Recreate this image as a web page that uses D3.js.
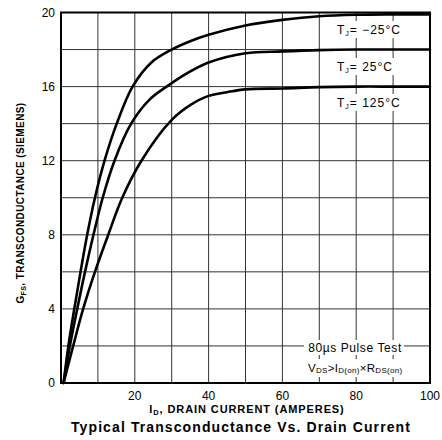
<!DOCTYPE html>
<html><head><meta charset="utf-8">
<script src="https://cdn.jsdelivr.net/npm/d3@7"></script>
<style>body{margin:0;background:#fff}svg{display:block}text{font-family:"Liberation Sans",Arial,Helvetica,sans-serif}</style>
</head><body>
<svg id="c" width="442" height="440"></svg>
<script>
// Data
const xTicks = [20, 40, 60, 80, 100];
const yTicks = [0, 4, 8, 12, 16, 20];
const tempLabels = ["−25°C", "25°C", "125°C"];

const idM25 = [0.7, 2.0, 3.6, 5.3, 7.1, 9.2, 11.8, 15.1, 19.4, 24.5, 30, 35, 40, 50, 60, 70, 80, 90, 100];
const gfsM25 = [0, 2, 4, 6, 8, 10, 12, 14, 16, 17.3, 18, 18.45, 18.8, 19.3, 19.6, 19.8, 19.88, 19.9, 19.9];

const id25 = [0.7, 2.4, 4.4, 6.5, 8.8, 11.3, 14.5, 19.0, 24, 29, 34, 40, 50, 60, 70, 80, 90, 100];
const gfs25 = [0, 2, 4, 6, 8, 10, 12, 14, 15.3, 16.05, 16.7, 17.3, 17.8, 17.9, 17.97, 18, 18, 18];

const id125 = [0.7, 3.3, 6.0, 9.2, 12.8, 16.6, 21.8, 30, 35, 40, 45, 50, 60, 70, 80, 90, 100];
const gfs125 = [0, 2, 4, 6, 8, 10, 12, 14.2, 15.0, 15.5, 15.7, 15.85, 15.9, 15.97, 16, 16, 16];

const svg = d3.select("#c");
const x = d3.scaleLinear().domain([0, 100]).range([61, 430]);
const y = d3.scaleLinear().domain([0, 20]).range([383, 12.5]);

// grid
const g = svg.append("g");
g.selectAll("line.v").data(d3.range(10, 100, 10)).join("line")
  .attr("x1", d => x(d)).attr("x2", d => x(d)).attr("y1", y(0)).attr("y2", y(20))
  .attr("stroke", "#333").attr("stroke-width", 1);
g.selectAll("line.h").data(d3.range(2, 20, 2)).join("line")
  .attr("y1", d => y(d)).attr("y2", d => y(d)).attr("x1", x(0)).attr("x2", x(100))
  .attr("stroke", "#333").attr("stroke-width", 1);

// white boxes behind labels
const boxes = [
  {x0: 333, x1: 422, y0: 21, y1: 38},
  {x0: 333, x1: 412, y0: 58, y1: 75},
  {x0: 333, x1: 422, y0: 94, y1: 111},
  {x0: 304, x1: 404, y0: 340, y1: 355},
  {x0: 304, x1: 414, y0: 359, y1: 377}
];
svg.selectAll("rect.bg").data(boxes).join("rect")
  .attr("x", d => d.x0).attr("y", d => d.y0)
  .attr("width", d => d.x1 - d.x0).attr("height", d => d.y1 - d.y0).attr("fill", "#fff");

// border
svg.append("rect").attr("x", x(0)).attr("y", y(20)).attr("width", x(100) - x(0)).attr("height", y(0) - y(20))
  .attr("fill", "none").attr("stroke", "#000").attr("stroke-width", 2);

// curves
const line = d3.line().x(d => x(d[0])).y(d => y(d[1])).curve(d3.curveCatmullRom.alpha(0.5));
const series = [
  d3.zip(idM25, gfsM25),
  d3.zip(id25, gfs25),
  d3.zip(id125, gfs125)
];
svg.selectAll("path.curve").data(series).join("path")
  .attr("d", line).attr("fill", "none").attr("stroke", "#000").attr("stroke-width", 2.6)
  .attr("stroke-linejoin", "round").attr("stroke-linecap", "round");

// Temperature labels
const tlY = [34, 71, 107];
const tlX = [337, 337, 337];
tempLabels.forEach((t, i) => {
  const tx = svg.append("text").attr("x", tlX[i]).attr("y", tlY[i]).attr("font-size", 12)
    .attr("letter-spacing", 1).attr("fill", "#000");
  tx.append("tspan").text("T");
  tx.append("tspan").attr("font-size", 7).attr("dy", 2).text("J");
  tx.append("tspan").attr("dy", -2).text("= ");
  tx.append("tspan").text(t);
});

// Note
svg.append("text").attr("x", 355).attr("y", 352).attr("text-anchor", "middle").attr("font-size", 12)
  .attr("letter-spacing", 0.6).text("80µs Pulse Test");
const n2 = svg.append("text").attr("x", 308).attr("y", 372).attr("font-size", 11.5).attr("letter-spacing", 0.3);
n2.append("tspan").text("V");
n2.append("tspan").attr("font-size", 8).attr("dy", 1).text("DS");
n2.append("tspan").attr("dy", -1).text(">I");
n2.append("tspan").attr("font-size", 8).attr("dy", 1).text("D(on)");
n2.append("tspan").attr("dy", -1).text("×R");
n2.append("tspan").attr("font-size", 8).attr("dy", 1).text("DS(on)");

// tick labels
svg.selectAll("text.xt").data(xTicks).join("text")
  .attr("x", d => x(d)).attr("y", 400).attr("text-anchor", "middle").attr("font-size", 12).text(d => d);
svg.selectAll("text.yt").data(yTicks).join("text")
  .attr("x", 55).attr("y", d => y(d) + 4).attr("text-anchor", "end").attr("font-size", 12).text(d => d);

// axis titles
const xt = svg.append("text").attr("x", 247).attr("y", 413).attr("text-anchor", "middle")
  .attr("font-size", 11).attr("letter-spacing", 0.9).attr("font-weight", "bold");
xt.append("tspan").text("I");
xt.append("tspan").attr("font-size", 7.5).attr("dy", 1.5).text("D");
xt.append("tspan").attr("dy", -1.5).text(", DRAIN CURRENT (AMPERES)");

const yt = svg.append("text").attr("transform", "translate(24,203) rotate(-90)").attr("text-anchor", "middle")
  .attr("font-size", 10).attr("letter-spacing", 0.4).attr("font-weight", "bold");
yt.append("tspan").text("G");
yt.append("tspan").attr("font-size", 7).attr("dy", 1.5).text("FS");
yt.append("tspan").attr("dy", -1.5).text(", TRANSCONDUCTANCE (SIEMENS)");

svg.append("text").attr("x", 241).attr("y", 432).attr("text-anchor", "middle")
  .attr("font-size", 14).attr("letter-spacing", 1.1).attr("font-weight", "bold").text("Typical Transconductance Vs. Drain Current");
</script>
</body></html>
